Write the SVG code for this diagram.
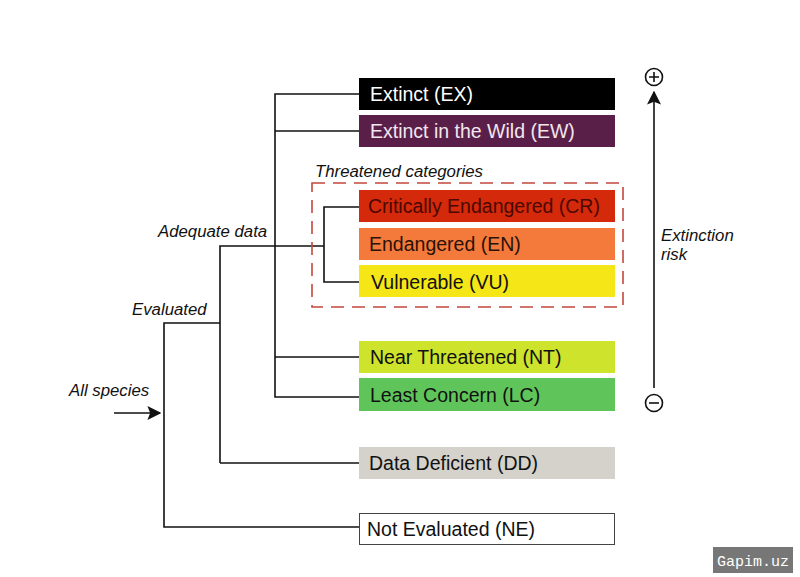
<svg xmlns="http://www.w3.org/2000/svg" width="800" height="577" viewBox="0 0 800 577">
<style>
.box text{font-family:"Liberation Sans",Arial,sans-serif;font-size:19.5px}
.lbl{font-family:"Liberation Sans",Arial,sans-serif;font-size:16.8px;font-style:italic;fill:#111}
.ln{stroke:#111;stroke-width:1.6;fill:none}
</style>
<defs>
<marker id="ah2" viewBox="0 0 10 10" refX="9" refY="5" markerWidth="14" markerHeight="14" markerUnits="userSpaceOnUse" orient="auto">
<path d="M0,0 L10,5 L0,10 L2,5 z" fill="#111"/>
</marker>
</defs>
<rect width="800" height="577" fill="#fff"/>
<g id="connectors" class="ln">
<path d="M359,94 H275 V397 H359"/>
<path d="M275,131 H359"/>
<path d="M275,357 H359"/>
<path d="M220,463 V246 H324"/>
<path d="M220,463 H359"/>
<path d="M359,207 H324 V282 H359"/>
<path d="M220,323 H164 V527 H359"/>
<path d="M114,413 H160" marker-end="url(#ah2)"/>
<path d="M654,388 V92" marker-end="url(#ah2)"/>
</g>
<g id="threatened">
<rect x="312" y="183" width="311" height="124" fill="none" stroke="#c4473d" stroke-width="1.6" stroke-dasharray="13,8"/>
<text class="lbl" x="315" y="177">Threatened categories</text>
</g>
<g id="EX" class="box"><rect x="359" y="78" width="256" height="32" fill="#000"/><text x="370" y="101" fill="#fff">Extinct (EX)</text></g>
<g id="EW" class="box"><rect x="359" y="115" width="256" height="32" fill="#5a1f48"/><text x="370" y="138" fill="#f2e6ee">Extinct in the Wild (EW)</text></g>
<g id="CR" class="box"><rect x="359" y="190" width="256" height="32" fill="#d5290b"/><text x="368" y="213" fill="#4a0800">Critically Endangered (CR)</text></g>
<g id="EN" class="box"><rect x="359" y="228" width="256" height="32" fill="#f47a3c"/><text x="369" y="251" fill="#2a1206">Endangered (EN)</text></g>
<g id="VU" class="box"><rect x="359" y="265" width="256" height="32" fill="#f5e617"/><text x="371" y="289" fill="#111">Vulnerable (VU)</text></g>
<g id="NT" class="box"><rect x="359" y="341" width="256" height="32" fill="#cde32c"/><text x="370" y="364" fill="#111">Near Threatened (NT)</text></g>
<g id="LC" class="box"><rect x="359" y="378" width="256" height="33" fill="#5fc55a"/><text x="370" y="402" fill="#111">Least Concern (LC)</text></g>
<g id="DD" class="box"><rect x="359" y="447" width="256" height="32" fill="#d4d2ca"/><text x="369" y="470" fill="#111">Data Deficient (DD)</text></g>
<g id="NE" class="box"><rect x="359.5" y="513.5" width="255" height="31" fill="#fff" stroke="#444" stroke-width="1"/><text x="367" y="536" fill="#111">Not Evaluated (NE)</text></g>
<g id="labels">
<text class="lbl" x="158" y="237">Adequate data</text>
<text class="lbl" x="132" y="315">Evaluated</text>
<text class="lbl" x="69" y="396">All species</text>
<text class="lbl" x="661" y="241">Extinction</text>
<text class="lbl" x="661" y="260">risk</text>
</g>
<g id="plus" fill="none" stroke="#111" stroke-width="1.6">
<circle cx="654" cy="77" r="8.5"/><path d="M649,77 H659 M654,72 V82"/>
</g>
<g id="minus" fill="none" stroke="#111" stroke-width="1.6">
<circle cx="654" cy="403" r="8.5"/><path d="M649,403 H659"/>
</g>
<g id="watermark">
<rect x="713" y="547" width="80" height="26" fill="#777"/>
<text x="753" y="566" text-anchor="middle" font-family="Liberation Mono,monospace" font-size="15" fill="#fff">Gapim.uz</text>
</g>
</svg>
